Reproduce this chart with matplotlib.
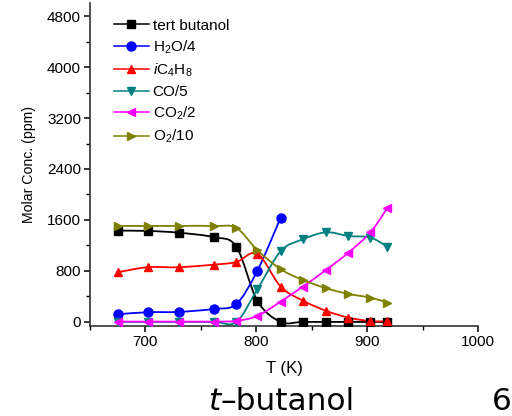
import matplotlib
matplotlib.use("Agg")
import matplotlib.pyplot as plt
import numpy as np
from matplotlib.path import Path
from matplotlib.patches import PathPatch
from matplotlib.ticker import MultipleLocator

plt.rcParams["font.family"] = ["Liberation Sans", "DejaVu Sans"]
plt.rcParams["mathtext.fontset"] = "custom"
plt.rcParams["mathtext.rm"] = "Liberation Sans"
plt.rcParams["mathtext.it"] = "Liberation Sans:italic"

# temperatures (K)
temp = [675, 702, 730, 762, 782, 801, 822, 842, 863, 883, 903, 918]

tert_butanol = [1432, 1428, 1400, 1329, 1180, 330, 0, 0, 0, 0, 0, 0]
h2o_4 = [120, 152, 157, 204, 282, 805, 1637]
ic4h8 = [780, 858, 858, 899, 940, 1070, 554, 334, 173, 68, 12, 10]
co_5 = [0, 0, 0, 0, 0, 513, 1110, 1297, 1407, 1349, 1323, 1181]
co2_2 = [5, 5, 5, 5, 16, 94, 319, 554, 816, 1087, 1407, 1784]
o2_10 = [1506, 1506, 1506, 1506, 1475, 1125, 827, 659, 528, 439, 381, 303]

labels = ["tert butanol", "H$_2$O/4", "$i$C$_4$H$_8$", "CO/5", "CO$_2$/2", "O$_2$/10"]
colors = ["black", "#0000ff", "#ff0000", "#008080", "#ff00ff", "#808000"]
markers = ["s", "o", "^", "v", "<", ">"]


def smooth_path(x, y):
    # Catmull-Rom through the points, as cubic bezier segments
    pts = np.column_stack([x, y]).astype(float)
    ext = np.vstack([pts[0], pts, pts[-1]])
    verts = [pts[0]]
    codes = [Path.MOVETO]
    for i in range(1, len(ext) - 2):
        p0, p1, p2, p3 = ext[i - 1], ext[i], ext[i + 1], ext[i + 2]
        verts += [p1 + (p2 - p0) / 6, p2 - (p3 - p1) / 6, p2]
        codes += [Path.CURVE4] * 3
    return Path(verts, codes)


fig = plt.figure(figsize=(5.12, 4.16), dpi=100)
ax = fig.add_axes([0.1758, 0.217, 0.7578, 0.775])

series = [tert_butanol, h2o_4, ic4h8, co_5, co2_2, o2_10]
for vals, lab, col, mk in zip(series, labels, colors, markers):
    xs = temp[:len(vals)]
    ax.add_patch(PathPatch(smooth_path(xs, vals), facecolor="none",
                           edgecolor=col, lw=1.3, zorder=2))
    ms = 6.5 if mk == "o" else 6
    ax.plot(xs, vals, ls="none", marker=mk, color=col, ms=ms, zorder=3)
    ax.plot([], [], color=col, marker=mk, ms=ms, lw=1.1, label=lab)

ax.set_xlim(650, 1000)
ax.set_ylim(-60, 5000)
ax.xaxis.set_minor_locator(MultipleLocator(50))
ax.yaxis.set_minor_locator(MultipleLocator(400))
ax.set_xticks([700, 800, 900, 1000])
ax.set_yticks([0, 800, 1600, 2400, 3200, 4000, 4800])
for side in ["top", "right"]:
    ax.spines[side].set_visible(False)
for side in ["left", "bottom"]:
    ax.spines[side].set_linewidth(1.2)
    ax.spines[side].set_color("#333333")
ax.tick_params(which="major", direction="out", length=4.5, width=1.1, labelsize=11, pad=2)
ax.tick_params(which="minor", direction="out", length=3, width=1.0)

ax.set_xlabel("T (K)", fontsize=12, labelpad=9)
ax.set_ylabel("Molar Conc. (ppm)", fontsize=10.2, labelpad=8)

ax.legend(loc="upper left", bbox_to_anchor=(0.053, 0.962), frameon=False,
          fontsize=11, handlelength=2.3, handletextpad=0.25, labelspacing=0.38,
          borderaxespad=0, borderpad=0.2)

fig.text(221 / 512, 1 - 410 / 416, "t", fontsize=22.5, style="italic",
         family="DejaVu Sans", ha="right", va="baseline")
fig.text(221 / 512, 1 - 410 / 416, "\u2013butanol", fontsize=22.5,
         family="DejaVu Sans", ha="left", va="baseline")
fig.text(512 / 512, 1 - 410 / 416, "6", fontsize=22.5,
         family="DejaVu Sans", ha="right", va="baseline")

fig.savefig("out.png", dpi=100)
